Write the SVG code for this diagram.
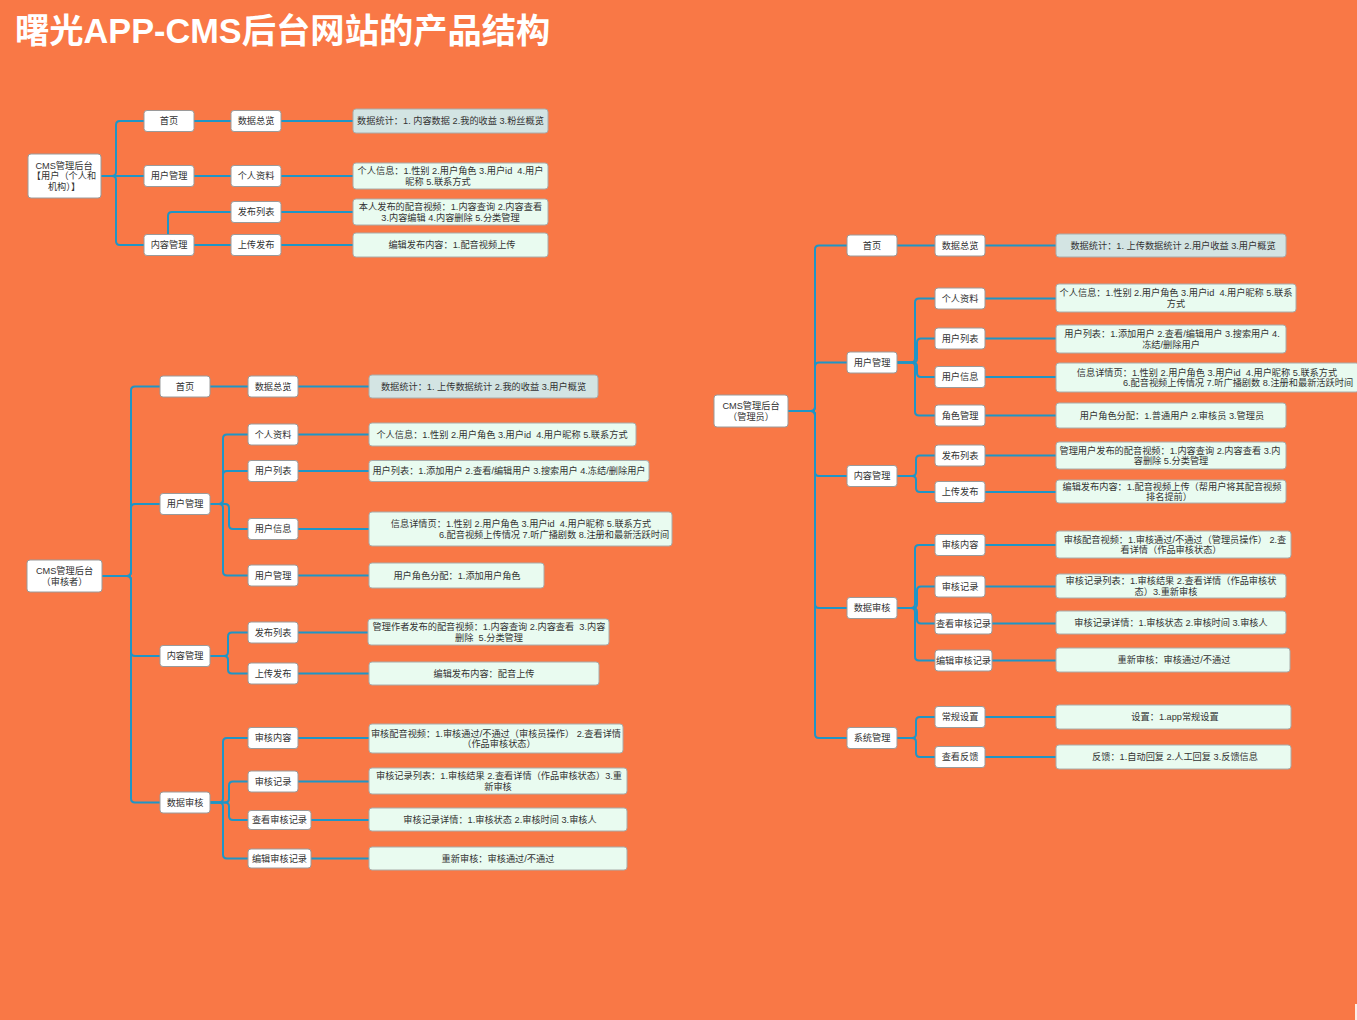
<svg xmlns="http://www.w3.org/2000/svg" width="1357" height="1020" viewBox="0 0 1357 1020">
<style>
.bg{fill:#F97846}
.n{fill:#FFFFFF;stroke:#9A9A9A;stroke-width:1}
.l{fill:#E9FBF0;stroke:#A8ACAA;stroke-width:1}
.s{fill:#D3E4E3;stroke:#A8ACAA;stroke-width:1}
.c path{fill:none;stroke:#1F95C6;stroke-width:2}
text{font-family:"Liberation Sans","Noto Sans CJK SC",sans-serif;fill:#333333;text-anchor:middle;white-space:pre}
.nt{font-size:9.2px}
.lt{font-size:9.2px}
.title{font-size:34.3px;font-weight:bold;fill:#FFFFFF;text-anchor:start}
</style>
<rect class="bg" x="0" y="0" width="1357" height="1020"/>
<rect x="1355" y="1004" width="2" height="16" fill="#FCEDE6"/>
<text class="title" x="15" y="43">曙光APP-CMS后台网站的产品结构</text>

<g class="c" id="connectors">
<!-- tree 1 -->
<path d="M101,176 H112 Q116,176 116,172 V125 Q116,121 120,121 H144"/>
<path d="M101,176 H144"/>
<path d="M101,176 H112 Q116,176 116,180 V241 Q116,245 120,245 H144"/>
<path d="M194,121 H231"/>
<path d="M194,176 H231"/>
<path d="M194,245 H231"/>
<path d="M168,234.5 V216 Q168,212 172,212 H231"/>
<path d="M281,121 H353"/>
<path d="M281,176 H353"/>
<path d="M281,212 H353"/>
<path d="M281,245 H353"/>
<!-- tree 2 -->
<path d="M102,576 H127 Q131,576 131,572 V390.5 Q131,386.5 135,386.5 H160"/>
<path d="M102,576 H127 Q131,576 131,572 V508 Q131,504 135,504 H160"/>
<path d="M102,576 H127 Q131,576 131,580 V652 Q131,656 135,656 H160"/>
<path d="M102,576 H127 Q131,576 131,580 V798.5 Q131,802.5 135,802.5 H160"/>
<path d="M210,386.5 H248"/>
<path d="M210,504 H219 Q223,504 223,500 V438.5 Q223,434.5 227,434.5 H248"/>
<path d="M210,504 H219 Q223,504 223,500 V475 Q223,471 227,471 H248"/>
<path d="M210,504 H225 Q229,504 229,508 V525 Q229,529 233,529 H248"/>
<path d="M210,504 H219 Q223,504 223,508 V571.5 Q223,575.5 227,575.5 H248"/>
<path d="M210,656 H224 Q228,656 228,652 V636.5 Q228,632.5 232,632.5 H248"/>
<path d="M210,656 H224 Q228,656 228,660 V669.5 Q228,673.5 232,673.5 H248"/>
<path d="M210,802.5 H219 Q223,802.5 223,798.5 V742 Q223,738 227,738 H248"/>
<path d="M210,802.5 H225 Q229,802.5 229,798.5 V785.5 Q229,781.5 233,781.5 H248"/>
<path d="M210,802.5 H225 Q229,802.5 229,806.5 V816 Q229,820 233,820 H248"/>
<path d="M210,802.5 H219 Q223,802.5 223,806.5 V854.5 Q223,858.5 227,858.5 H248"/>
<path d="M298,386.5 H369"/>
<path d="M298,434.5 H369"/>
<path d="M298,471 H369"/>
<path d="M298,529 H369"/>
<path d="M298,575.5 H369"/>
<path d="M298,632.5 H368"/>
<path d="M298,673.5 H369"/>
<path d="M298,738 H369"/>
<path d="M298,781.5 H369"/>
<path d="M311,820 H369"/>
<path d="M311,858.5 H369"/>
<!-- tree 3 -->
<path d="M788,411 H811 Q815,411 815,407 V249.5 Q815,245.5 819,245.5 H847"/>
<path d="M788,411 H811 Q815,411 815,407 V366.5 Q815,362.5 819,362.5 H847"/>
<path d="M788,411 H811 Q815,411 815,415 V472 Q815,476 819,476 H847"/>
<path d="M788,411 H811 Q815,411 815,415 V604 Q815,608 819,608 H847"/>
<path d="M788,411 H811 Q815,411 815,415 V734 Q815,738 819,738 H847"/>
<path d="M897,245.5 H935"/>
<path d="M897,362.5 H911 Q915,362.5 915,358.5 V302.5 Q915,298.5 919,298.5 H935"/>
<path d="M897,362.5 H913 Q917,362.5 917,358.5 V342.5 Q917,338.5 921,338.5 H935"/>
<path d="M897,362.5 H913 Q917,362.5 917,366.5 V373 Q917,377 921,377 H935"/>
<path d="M897,362.5 H911 Q915,362.5 915,366.5 V411.5 Q915,415.5 919,415.5 H935"/>
<path d="M897,476 H912 Q916,476 916,472 V459.5 Q916,455.5 920,455.5 H935"/>
<path d="M897,476 H912 Q916,476 916,480 V488 Q916,492 920,492 H935"/>
<path d="M897,608 H911 Q915,608 915,604 V549 Q915,545 919,545 H935"/>
<path d="M897,608 H913 Q917,608 917,604 V590.5 Q917,586.5 921,586.5 H935"/>
<path d="M897,608 H913 Q917,608 917,612 V619.5 Q917,623.5 921,623.5 H935"/>
<path d="M897,608 H911 Q915,608 915,612 V656.5 Q915,660.5 919,660.5 H935"/>
<path d="M897,738 H912 Q916,738 916,734 V721 Q916,717 920,717 H935"/>
<path d="M897,738 H912 Q916,738 916,742 V753 Q916,757 920,757 H935"/>
<path d="M985,245.5 H1056"/>
<path d="M985,298.5 H1056"/>
<path d="M985,338.5 H1056"/>
<path d="M985,377 H1056"/>
<path d="M985,415.5 H1056"/>
<path d="M985,455.5 H1056"/>
<path d="M985,492 H1056"/>
<path d="M985,545 H1056"/>
<path d="M985,586.5 H1056"/>
<path d="M992,623.5 H1056"/>
<path d="M992,660.5 H1056"/>
<path d="M985,717 H1056"/>
<path d="M985,757 H1056"/>
</g>

<!-- ========== Tree 1 ========== -->
<g id="t1-root"><rect class="n" x="28" y="154" width="73" height="44" rx="3"/>
<text class="nt" x="64" y="168.8">CMS管理后台</text><text class="nt" x="64" y="179.3">【用户（个人和</text><text class="nt" x="64" y="189.8">机构）】</text></g>
<g id="t1-home"><rect class="n" x="144" y="110.5" width="50" height="21" rx="3"/><text class="nt" x="169" y="124.3">首页</text></g>
<g id="t1-user"><rect class="n" x="144" y="165.5" width="50" height="21" rx="3"/><text class="nt" x="169" y="179.3">用户管理</text></g>
<g id="t1-content"><rect class="n" x="144" y="234.5" width="50" height="21" rx="3"/><text class="nt" x="169" y="248.3">内容管理</text></g>
<g id="t1-overview"><rect class="n" x="231" y="110.5" width="50" height="21" rx="3"/><text class="nt" x="256" y="124.3">数据总览</text></g>
<g id="t1-profile"><rect class="n" x="231" y="165.5" width="50" height="21" rx="3"/><text class="nt" x="256" y="179.3">个人资料</text></g>
<g id="t1-publist"><rect class="n" x="231" y="201.5" width="50" height="21" rx="3"/><text class="nt" x="256" y="215.3">发布列表</text></g>
<g id="t1-upload"><rect class="n" x="231" y="234.5" width="50" height="21" rx="3"/><text class="nt" x="256" y="248.3">上传发布</text></g>
<g id="t1-leaf1"><rect class="s" x="353" y="109" width="195" height="24" rx="3"/><text class="lt" x="450.5" y="124.3">数据统计：1. 内容数据 2.我的收益 3.粉丝概览</text></g>
<g id="t1-leaf2"><rect class="l" x="353" y="163" width="195" height="26" rx="3"/><text class="lt" x="450.5" y="174">个人信息：1.性别 2.用户角色 3.用户id  4.用户</text><text class="lt" x="438" y="184.6">昵称 5.联系方式</text></g>
<g id="t1-leaf3"><rect class="l" x="353" y="199" width="195" height="26" rx="3"/><text class="lt" x="450.5" y="210">本人发布的配音视频：1.内容查询 2.内容查看</text><text class="lt" x="450.5" y="220.6">3.内容编辑 4.内容删除 5.分类管理</text></g>
<g id="t1-leaf4"><rect class="l" x="353" y="233" width="195" height="24" rx="3"/><text class="lt" x="452" y="248.3">编辑发布内容：1.配音视频上传</text></g>

<!-- ========== Tree 2 ========== -->
<g id="t2-root"><rect class="n" x="27" y="560" width="75" height="32" rx="3"/>
<text class="nt" x="64.5" y="573.8">CMS管理后台</text><text class="nt" x="64.5" y="584.8">（审核者）</text></g>
<g id="t2-home"><rect class="n" x="160" y="376" width="50" height="21" rx="3"/><text class="nt" x="185" y="389.8">首页</text></g>
<g id="t2-user"><rect class="n" x="160" y="493.5" width="50" height="21" rx="3"/><text class="nt" x="185" y="507.3">用户管理</text></g>
<g id="t2-content"><rect class="n" x="160" y="645.5" width="50" height="21" rx="3"/><text class="nt" x="185" y="659.3">内容管理</text></g>
<g id="t2-audit"><rect class="n" x="160" y="792" width="50" height="21" rx="3"/><text class="nt" x="185" y="805.8">数据审核</text></g>
<g id="t2-overview"><rect class="n" x="248" y="376" width="50" height="21" rx="3"/><text class="nt" x="273" y="389.8">数据总览</text></g>
<g id="t2-profile"><rect class="n" x="248" y="424" width="50" height="21" rx="3"/><text class="nt" x="273" y="437.8">个人资料</text></g>
<g id="t2-userlist"><rect class="n" x="248" y="460.5" width="50" height="21" rx="3"/><text class="nt" x="273" y="474.3">用户列表</text></g>
<g id="t2-userinfo"><rect class="n" x="248" y="518.5" width="50" height="21" rx="3"/><text class="nt" x="273" y="532.3">用户信息</text></g>
<g id="t2-usermgr"><rect class="n" x="248" y="565" width="50" height="21" rx="3"/><text class="nt" x="273" y="578.8">用户管理</text></g>
<g id="t2-publist"><rect class="n" x="248" y="622" width="50" height="21" rx="3"/><text class="nt" x="273" y="635.8">发布列表</text></g>
<g id="t2-upload"><rect class="n" x="248" y="663" width="50" height="21" rx="3"/><text class="nt" x="273" y="676.8">上传发布</text></g>
<g id="t2-auditcontent"><rect class="n" x="248" y="727.5" width="50" height="21" rx="3"/><text class="nt" x="273" y="741.3">审核内容</text></g>
<g id="t2-auditrec"><rect class="n" x="248" y="771" width="50" height="21" rx="3"/><text class="nt" x="273" y="784.8">审核记录</text></g>
<g id="t2-viewrec"><rect class="n" x="248" y="810.5" width="63" height="19" rx="3"/><text class="nt" x="279.5" y="823.3">查看审核记录</text></g>
<g id="t2-editrec"><rect class="n" x="248" y="849" width="63" height="19" rx="3"/><text class="nt" x="279.5" y="861.8">编辑审核记录</text></g>
<g id="t2-leaf1"><rect class="s" x="369" y="375" width="229" height="23" rx="3"/><text class="lt" x="483.5" y="389.8">数据统计：1. 上传数据统计 2.我的收益 3.用户概览</text></g>
<g id="t2-leaf2"><rect class="l" x="369" y="423" width="267" height="23" rx="3"/><text class="lt" x="502" y="437.8">个人信息：1.性别 2.用户角色 3.用户id  4.用户昵称 5.联系方式</text></g>
<g id="t2-leaf3"><rect class="l" x="369" y="460.5" width="280" height="21" rx="3"/><text class="lt" x="509" y="474.3">用户列表：1.添加用户 2.查看/编辑用户 3.搜索用户 4.冻结/删除用户</text></g>
<g id="t2-leaf4"><rect class="l" x="369" y="512" width="303" height="34" rx="3"/><text class="lt" x="521" y="527">信息详情页：1.性别 2.用户角色 3.用户id  4.用户昵称 5.联系方式</text><text class="lt" x="554" y="537.6">6.配音视频上传情况 7.听广播剧数 8.注册和最新活跃时间</text></g>
<g id="t2-leaf5"><rect class="l" x="369" y="563" width="175" height="25" rx="3"/><text class="lt" x="457" y="578.8">用户角色分配：1.添加用户角色</text></g>
<g id="t2-leaf6"><rect class="l" x="368" y="619" width="241" height="26" rx="3"/><text class="lt" x="489" y="630">管理作者发布的配音视频：1.内容查询 2.内容查看  3.内容</text><text class="lt" x="489" y="640.6">删除  5.分类管理</text></g>
<g id="t2-leaf7"><rect class="l" x="369" y="662" width="230" height="23" rx="3"/><text class="lt" x="484" y="676.8">编辑发布内容：配音上传</text></g>
<g id="t2-leaf8"><rect class="l" x="369" y="724" width="254" height="29" rx="3"/><text class="lt" x="496" y="736.5">审核配音视频：1.审核通过/不通过（审核员操作） 2.查看详情</text><text class="lt" x="499" y="747.1">（作品审核状态）</text></g>
<g id="t2-leaf9"><rect class="l" x="369" y="768" width="258" height="26" rx="3"/><text class="lt" x="499" y="779">审核记录列表：1.审核结果 2.查看详情（作品审核状态）3.重</text><text class="lt" x="498" y="789.6">新审核</text></g>
<g id="t2-leaf10"><rect class="l" x="369" y="808" width="258" height="23" rx="3"/><text class="lt" x="500" y="822.8">审核记录详情：1.审核状态 2.审核时间 3.审核人</text></g>
<g id="t2-leaf11"><rect class="l" x="369" y="847" width="258" height="23" rx="3"/><text class="lt" x="498" y="861.8">重新审核：审核通过/不通过</text></g>

<!-- ========== Tree 3 ========== -->
<g id="t3-root"><rect class="n" x="714" y="395" width="74" height="32" rx="3"/>
<text class="nt" x="751" y="409">CMS管理后台</text><text class="nt" x="751" y="419.5">（管理员）</text></g>
<g id="t3-home"><rect class="n" x="847" y="235" width="50" height="21" rx="3"/><text class="nt" x="872" y="248.8">首页</text></g>
<g id="t3-user"><rect class="n" x="847" y="352" width="50" height="21" rx="3"/><text class="nt" x="872" y="365.8">用户管理</text></g>
<g id="t3-content"><rect class="n" x="847" y="465.5" width="50" height="21" rx="3"/><text class="nt" x="872" y="479.3">内容管理</text></g>
<g id="t3-audit"><rect class="n" x="847" y="597.5" width="50" height="21" rx="3"/><text class="nt" x="872" y="611.3">数据审核</text></g>
<g id="t3-system"><rect class="n" x="847" y="727.5" width="50" height="21" rx="3"/><text class="nt" x="872" y="741.3">系统管理</text></g>
<g id="t3-overview"><rect class="n" x="935" y="235" width="50" height="21" rx="3"/><text class="nt" x="960" y="248.8">数据总览</text></g>
<g id="t3-profile"><rect class="n" x="935" y="288" width="50" height="21" rx="3"/><text class="nt" x="960" y="301.8">个人资料</text></g>
<g id="t3-userlist"><rect class="n" x="935" y="328" width="50" height="21" rx="3"/><text class="nt" x="960" y="341.8">用户列表</text></g>
<g id="t3-userinfo"><rect class="n" x="935" y="366.5" width="50" height="21" rx="3"/><text class="nt" x="960" y="380.3">用户信息</text></g>
<g id="t3-role"><rect class="n" x="935" y="405" width="50" height="21" rx="3"/><text class="nt" x="960" y="418.8">角色管理</text></g>
<g id="t3-publist"><rect class="n" x="935" y="445" width="50" height="21" rx="3"/><text class="nt" x="960" y="458.8">发布列表</text></g>
<g id="t3-upload"><rect class="n" x="935" y="481.5" width="50" height="21" rx="3"/><text class="nt" x="960" y="495.3">上传发布</text></g>
<g id="t3-auditcontent"><rect class="n" x="935" y="534.5" width="50" height="21" rx="3"/><text class="nt" x="960" y="548.3">审核内容</text></g>
<g id="t3-auditrec"><rect class="n" x="935" y="576" width="50" height="21" rx="3"/><text class="nt" x="960" y="589.8">审核记录</text></g>
<g id="t3-viewrec"><rect class="n" x="935" y="613" width="57" height="21" rx="3"/><text class="nt" x="963.5" y="626.8">查看审核记录</text></g>
<g id="t3-editrec"><rect class="n" x="935" y="650" width="57" height="21" rx="3"/><text class="nt" x="963.5" y="663.8">编辑审核记录</text></g>
<g id="t3-settings"><rect class="n" x="935" y="706.5" width="50" height="21" rx="3"/><text class="nt" x="960" y="720.3">常规设置</text></g>
<g id="t3-feedback"><rect class="n" x="935" y="746.5" width="50" height="21" rx="3"/><text class="nt" x="960" y="760.3">查看反馈</text></g>
<g id="t3-leaf1"><rect class="s" x="1056" y="234" width="230" height="23" rx="3"/><text class="lt" x="1173" y="248.8">数据统计：1. 上传数据统计 2.用户收益 3.用户概览</text></g>
<g id="t3-leaf2"><rect class="l" x="1056" y="284" width="240" height="28" rx="3"/><text class="lt" x="1176" y="296">个人信息：1.性别 2.用户角色 3.用户id  4.用户昵称 5.联系</text><text class="lt" x="1176" y="306.6">方式</text></g>
<g id="t3-leaf3"><rect class="l" x="1056" y="325" width="230" height="28" rx="3"/><text class="lt" x="1172" y="337">用户列表：1.添加用户 2.查看/编辑用户 3.搜索用户 4.</text><text class="lt" x="1171" y="347.6">冻结/删除用户</text></g>
<g id="t3-leaf4"><rect class="l" x="1056" y="363" width="303" height="29" rx="3"/><text class="lt" x="1207" y="375.5">信息详情页：1.性别 2.用户角色 3.用户id  4.用户昵称 5.联系方式</text><text class="lt" x="1238" y="386.1">6.配音视频上传情况 7.听广播剧数 8.注册和最新活跃时间</text></g>
<g id="t3-leaf5"><rect class="l" x="1056" y="403" width="230" height="25" rx="3"/><text class="lt" x="1172" y="418.8">用户角色分配：1.普通用户 2.审核员 3.管理员</text></g>
<g id="t3-leaf6"><rect class="l" x="1056" y="442" width="230" height="27" rx="3"/><text class="lt" x="1170" y="453.5">管理用户发布的配音视频：1.内容查询 2.内容查看 3.内</text><text class="lt" x="1171" y="464.1">容删除 5.分类管理</text></g>
<g id="t3-leaf7"><rect class="l" x="1056" y="480" width="230" height="23" rx="3"/><text class="lt" x="1172" y="489.5">编辑发布内容：1.配音视频上传（帮用户将其配音视频</text><text class="lt" x="1169" y="500.1">排名提前）</text></g>
<g id="t3-leaf8"><rect class="l" x="1056" y="531" width="235" height="27" rx="3"/><text class="lt" x="1175" y="542.5">审核配音视频：1.审核通过/不通过（管理员操作） 2.查</text><text class="lt" x="1171" y="553.1">看详情（作品审核状态）</text></g>
<g id="t3-leaf9"><rect class="l" x="1056" y="574" width="230" height="24" rx="3"/><text class="lt" x="1171" y="584">审核记录列表：1.审核结果 2.查看详情（作品审核状</text><text class="lt" x="1166" y="594.6">态）3.重新审核</text></g>
<g id="t3-leaf10"><rect class="l" x="1056" y="611" width="230" height="23" rx="3"/><text class="lt" x="1171" y="625.8">审核记录详情：1.审核状态 2.审核时间 3.审核人</text></g>
<g id="t3-leaf11"><rect class="l" x="1056" y="648" width="234" height="24" rx="3"/><text class="lt" x="1174" y="663.3">重新审核：审核通过/不通过</text></g>
<g id="t3-leaf12"><rect class="l" x="1056" y="705" width="235" height="24" rx="3"/><text class="lt" x="1175" y="720.3">设置：1.app常规设置</text></g>
<g id="t3-leaf13"><rect class="l" x="1056" y="745" width="235" height="24" rx="3"/><text class="lt" x="1175" y="760.3">反馈：1.自动回复 2.人工回复 3.反馈信息</text></g>
</svg>
